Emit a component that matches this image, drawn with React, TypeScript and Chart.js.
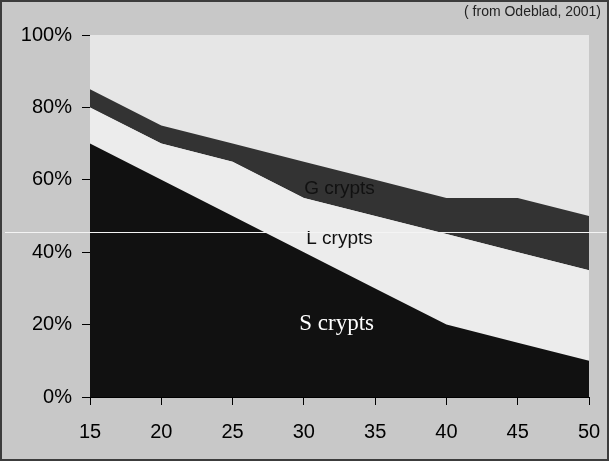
import React, { useEffect, useRef } from "react";
import { Chart, registerables } from "chart.js";

Chart.register(...registerables);

const ages = [15, 20, 25, 30, 35, 40, 45, 50];
const sCrypts = [70, 60, 50, 40, 30, 20, 15, 10];
const lCrypts = [10, 10, 15, 15, 20, 25, 25, 25];
const gCrypts = [5, 5, 5, 10, 10, 10, 15, 15];
const xTicks = [15, 20, 25, 30, 35, 40, 45, 50];
const yTicks = [0, 20, 40, 60, 80, 100];
const areaLabels = [
  { text: "G crypts", x: 32.5, y: 57.6, color: "#111", font: "19px 'Liberation Sans', Arial, sans-serif" },
  { text: "L crypts", x: 32.5, y: 43.8, color: "#111", font: "19px 'Liberation Sans', Arial, sans-serif" },
  { text: "S crypts", x: 32.3, y: 20.2, color: "#ffffff", font: "23px 'Liberation Serif', 'Times New Roman', serif" },
];
const sourceNote = "( from Odeblad, 2001)";
const artifactLineValue = 45.5;

const sansFont = "'Liberation Sans', Arial, sans-serif";

export default function App() {
  const ref = useRef<HTMLCanvasElement | null>(null);

  useEffect(() => {
    document.body.style.margin = "0";
    const canvas = ref.current;
    if (!canvas) return;

    const bgPlugin = {
      id: "areaBg",
      beforeDatasetsDraw(chart: any) {
        const { ctx, chartArea } = chart;
        ctx.save();
        ctx.fillStyle = "#e6e6e6";
        ctx.fillRect(chartArea.left, chartArea.top, chartArea.right - chartArea.left, chartArea.bottom - chartArea.top);
        ctx.restore();
      },
      afterDraw(chart: any) {
        const { ctx, scales } = chart;
        ctx.save();
        for (const l of areaLabels) {
          ctx.font = l.font;
          ctx.fillStyle = l.color;
          ctx.textAlign = "center";
          ctx.textBaseline = "middle";
          ctx.fillText(l.text, scales.x.getPixelForValue(l.x), scales.y.getPixelForValue(l.y));
        }
        ctx.font = "14px " + sansFont;
        ctx.fillStyle = "#222";
        ctx.textAlign = "right";
        ctx.textBaseline = "middle";
        ctx.fillText(sourceNote, chart.width - 8, 12);
        const ly = Math.round(scales.y.getPixelForValue(artifactLineValue)) + 0.5;
        ctx.strokeStyle = "#f4f4f4";
        ctx.lineWidth = 1;
        ctx.beginPath();
        ctx.moveTo(5, ly);
        ctx.lineTo(chart.width, ly);
        ctx.stroke();
        ctx.restore();
      },
    };

    const mk = (label: string, data: number[], color: string, fill: any) => ({
      label,
      data: ages.map((a, i) => ({ x: a, y: data[i] })),
      backgroundColor: color,
      borderColor: color,
      borderWidth: 0,
      pointRadius: 0,
      fill,
      tension: 0,
    });

    const chart = new Chart(canvas, {
      type: "line",
      data: {
        datasets: [
          mk("S crypts", sCrypts, "#111111", "origin"),
          mk("L crypts", lCrypts, "#ececec", "-1"),
          mk("G crypts", gCrypts, "#333333", "-1"),
        ],
      },
      options: {
        animation: false,
        responsive: false,
        maintainAspectRatio: false,
        layout: { padding: { top: 35, right: 20, left: 0, bottom: 0 } },
        plugins: { legend: { display: false }, tooltip: { enabled: false } },
        scales: {
          x: {
            type: "linear",
            min: 15,
            max: 50,
            afterBuildTicks(axis: any) {
              axis.ticks = xTicks.map((v) => ({ value: v }));
            },
            afterFit(axis: any) {
              axis.height = 64;
              axis.paddingLeft = 0;
              axis.paddingRight = 0;
            },
            grid: { drawOnChartArea: false, drawTicks: true, tickLength: 8, color: "#000" },
            border: { display: true, color: "#000", width: 1 },
            ticks: { color: "#000", font: { family: sansFont, size: 20 }, padding: 15, maxRotation: 0 },
          },
          y: {
            type: "linear",
            stacked: true,
            min: 0,
            max: 100,
            afterBuildTicks(axis: any) {
              axis.ticks = yTicks.map((v) => ({ value: v }));
            },
            afterFit(axis: any) {
              axis.width = 90;
              axis.paddingTop = 0;
              axis.paddingBottom = 0;
            },
            grid: { drawOnChartArea: false, drawTicks: true, tickLength: 8, color: "#000" },
            border: { display: true, color: "#000", width: 1 },
            ticks: {
              color: "#000",
              font: { family: sansFont, size: 20 },
              padding: 10,
              callback: (v: any) => v + "%",
            },
          },
        },
      },
      plugins: [bgPlugin],
    });
    return () => chart.destroy();
  }, []);

  return (
    <div style={{ position: "fixed", left: 0, top: 0, width: 609, height: 461, background: "#c8c8c8" }}>
      <canvas ref={ref} width={609} height={461} style={{ position: "absolute", left: 0, top: 0, width: 609, height: 461 }} />
      <div
        style={{
          position: "absolute",
          inset: 0,
          border: "2px solid #3c3c3c",
          boxSizing: "border-box",
          pointerEvents: "none",
        }}
      />
    </div>
  );
}
